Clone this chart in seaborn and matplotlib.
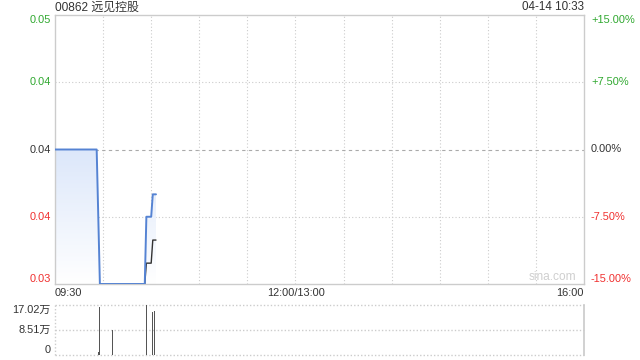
import numpy as np
import pandas as pd
import matplotlib
matplotlib.use("Agg")
import matplotlib.pyplot as plt
from matplotlib.colors import LinearSegmentedColormap
from matplotlib.transforms import blended_transform_factory
import seaborn as sns

# ---------------- data ----------------
title_text = "00862 远见控股"
stamp_text = "04-14 10:33"
prev_close = 0.04
price_minutes = [0, 26, 28, 56, 57, 60, 61, 63]
price_values = [0.040, 0.040, 0.034, 0.034, 0.037, 0.037, 0.038, 0.038]
avg_minutes = [56, 57, 60, 61, 63]
avg_values = [0.034, 0.03493, 0.03493, 0.03596, 0.03596]
vol_minutes = [27, 28, 36, 57, 61, 62]
vol_values = [10000, 163000, 86000, 170200, 146000, 150000]
vol_max = 170200
vol_tick_labels = ["0", "8.51万", "17.02万"]
price_tick_labels = ["0.03", "0.04", "0.04", "0.04", "0.05"]
pct_tick_values = [-15.0, -7.5, 0.0, 7.5, 15.0]
pct_tick_labels = ["-15.00%", "-7.50%", "0.00%", "+7.50%", "+15.00%"]
x_tick_labels = ["09:30", "12:00/13:00", "16:00"]
total_minutes = 330

# ---------------- style ----------------
sns.set_theme(style="white")
plt.rcParams["font.family"] = ["Liberation Sans", "Noto Sans CJK SC", "DejaVu Sans"]

GREEN = "#2fa82f"
RED = "#f0302f"
DARK = "#333333"
GRID = "#cccccc"
LINE = "#5583d3"

fig = plt.figure(figsize=(6.4, 3.6), dpi=100)
ax = fig.add_axes([55/640, 1-284/360, 529/640, 269/360])
axv = fig.add_axes([55/640, 1-355/360, 529/640, 50/360])

lo, hi = prev_close * 0.85, prev_close * 1.15
ax.set_xlim(0, total_minutes)
ax.set_ylim(lo, hi)

# grid
for m in range(30, total_minutes, 30):
    ax.axvline(m, color=GRID, lw=0.8, ls=(0, (1, 2)), zorder=0)
for p in (-7.5, 7.5):
    ax.axhline(prev_close * (1 + p/100), color=GRID, lw=0.8, ls=(0, (1, 2)), zorder=0)
ax.axhline(prev_close, color="#aaaaaa", lw=0.8, ls=(0, (3, 3)), zorder=0)

# price data frames
dfp = pd.DataFrame({"minute": price_minutes, "price": price_values})
dfa = pd.DataFrame({"minute": avg_minutes, "price": avg_values})

# gradient fill under price line
poly = ax.fill_between(dfp["minute"], dfp["price"], lo, color="none", lw=0)
cmap = LinearSegmentedColormap.from_list("g", ["#ffffff", "#dce7fa"])
grad = np.linspace(0, 1, 256).reshape(-1, 1)
img = ax.imshow(grad, extent=[0, max(price_minutes), lo, prev_close], origin="lower",
                cmap=cmap, aspect="auto", zorder=1)
img.set_clip_path(poly.get_paths()[0], transform=ax.transData)
ax.set_xlim(0, total_minutes)
ax.set_ylim(lo, hi)

sns.lineplot(data=dfa, x="minute", y="price", ax=ax, color="#333333", lw=1.0, zorder=2)
sns.lineplot(data=dfp, x="minute", y="price", ax=ax, color=LINE, lw=1.4, zorder=3)

for s in ax.spines.values():
    s.set_color(GRID)
    s.set_linewidth(1.0)

ax.set_xlabel("")
ax.set_ylabel("")
ax.set_xticks([])
price_ticks = [prev_close * (1 + p/100) for p in pct_tick_values]
ax.set_yticks(price_ticks)
ax.set_yticklabels(price_tick_labels, fontsize=7.9)
ax.tick_params(axis="y", length=0, pad=3)
colors = [RED, RED, DARK, GREEN, GREEN]
vas = ["bottom", "center", "center", "center", "top"]
for lab, c, va in zip(ax.get_yticklabels(), colors, vas):
    lab.set_color(c)
    lab.set_va(va)

ax2 = ax.twinx()
ax2.set_ylim(-15, 15)
ax2.set_yticks(pct_tick_values)
ax2.set_yticklabels(pct_tick_labels, fontsize=7.9)
ax2.tick_params(axis="y", length=0, pad=5)
for lab, c, va in zip(ax2.get_yticklabels(), colors, vas):
    lab.set_color(c)
    lab.set_va(va)
for s in ax2.spines.values():
    s.set_visible(False)

# x labels
tr = blended_transform_factory(ax.transData, fig.transFigure)
ypos = 1 - 293/360
fig.text(55/640, ypos, x_tick_labels[0], ha="left", va="center", fontsize=7.9, color=DARK)
fig.text(296/640, ypos, x_tick_labels[1], ha="center", va="center", fontsize=7.9, color=DARK)
fig.text(584/640, ypos, x_tick_labels[2], ha="right", va="center", fontsize=7.9, color=DARK)

# titles
fig.text(55/640, 1 - 7.5/360, title_text, ha="left", va="center", fontsize=8.6, color=DARK)
fig.text(584/640, 1 - 7.5/360, stamp_text, ha="right", va="center", fontsize=8.4, color=DARK)
ax.text(0.94, 0.025, "sina.com", transform=ax.transAxes, ha="center", va="center",
        fontsize=8.6, color="#cfcfcf")

# ---------------- volume ----------------
axv.set_xlim(0, total_minutes)
axv.set_ylim(0, vol_max)
dfv = pd.DataFrame({"minute": vol_minutes, "vol": vol_values})
axv.bar(dfv["minute"], dfv["vol"], width=0.6, color="#555555", lw=0, zorder=2)
for v in (0, vol_max/2, vol_max):
    axv.axhline(v, color=GRID, lw=1.0, ls=(0, (1, 1.5)), zorder=1, clip_on=False)
axv.axvline(0, color=GRID, lw=1.0, ls=(0, (1, 1.5)), zorder=1, clip_on=False)
for k, s in axv.spines.items():
    s.set_visible(k == "right")
axv.spines["right"].set_color(GRID)
axv.set_xticks([])
axv.set_yticks([0, vol_max/2, vol_max])
axv.set_yticklabels(vol_tick_labels, fontsize=7.9)
axv.tick_params(axis="y", length=0, pad=3)
for lab, va in zip(axv.get_yticklabels(), ["bottom", "center", "top"]):
    lab.set_color(DARK)
    lab.set_va(va)

fig.savefig("out.png", dpi=100)
